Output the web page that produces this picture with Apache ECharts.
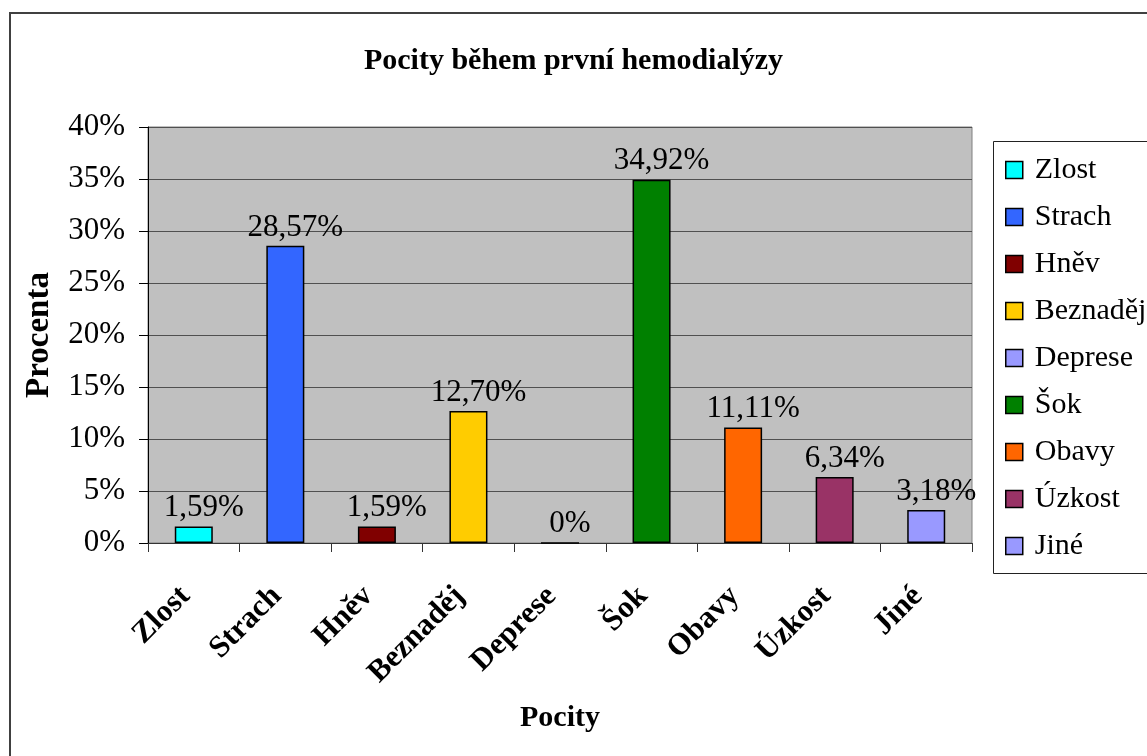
<!DOCTYPE html>
<html>
<head>
<meta charset="utf-8">
<title>Pocity během první hemodialýzy</title>
<script src="https://cdn.jsdelivr.net/npm/echarts@6/dist/echarts.min.js"></script>
<style>
  html, body { margin: 0; padding: 0; background: #fff; }
  #chart { width: 1147px; height: 756px; }
</style>
</head>
<body>
<div id="chart"></div>
<script>
// Feelings reported during the first haemodialysis (percent of respondents)
const categories = ['Zlost', 'Strach', 'Hněv', 'Beznaděj', 'Deprese', 'Šok', 'Obavy', 'Úzkost', 'Jiné'];
const percentages = [1.59, 28.57, 1.59, 12.70, 0, 34.92, 11.11, 6.34, 3.18];
const barColors = ['#00FFFF', '#3366FF', '#800000', '#FFCC00', '#9999FF', '#008000', '#FF6600', '#993366', '#9999FF'];
const yTicks = [0, 5, 10, 15, 20, 25, 30, 35, 40];

const FONT = "'Liberation Serif', 'Times New Roman', serif";

function fmtPct(v) {
  return v === 0 ? '0%' : v.toFixed(2).replace('.', ',') + '%';
}

// One series per category so each one gets its own legend entry;
// barGap -100% puts them on the same slot so every bar sits centred.
const series = categories.map((name, i) => ({
  name: name,
  type: 'bar',
  barWidth: 38,
  barGap: '-100%',
  data: percentages.map((v, j) => (j === i ? v : '-')),
  itemStyle: { color: barColors[i], borderColor: '#000', borderWidth: 1.5 },
  label: {
    show: true,
    position: 'top',
    distance: 3,
    offset: [10, 0],
    color: '#000',
    fontFamily: FONT,
    fontSize: 31,
    formatter: p => fmtPct(p.value)
  }
}));

const chart = echarts.init(document.getElementById('chart'), null, { renderer: 'canvas' });

chart.setOption({
  backgroundColor: '#fff',
  animation: false,
  title: {
    text: 'Pocity během první hemodialýzy',
    left: 'center',
    top: 41,
    textStyle: { fontFamily: FONT, fontSize: 30, fontWeight: 'bold', color: '#000' }
  },
  graphic: [
    { type: 'rect', z: 0, shape: { x: 10, y: 13, width: 1300, height: 900 },
      style: { fill: 'none', stroke: '#404040', lineWidth: 2 } },
    { type: 'rect', z: 0, shape: { x: 993.5, y: 141.5, width: 200, height: 432 },
      style: { fill: '#fff', stroke: '#222', lineWidth: 1 } }
  ],
  legend: {
    orient: 'vertical',
    left: 1005,
    top: 155,
    padding: 0,
    itemWidth: 17,
    itemHeight: 17,
    itemGap: 17,
    icon: 'rect',
    itemStyle: { borderColor: '#000', borderWidth: 1.5 },
    textStyle: { fontFamily: FONT, fontSize: 30, color: '#000', padding: [0, 0, 0, 7] },
    data: categories
  },
  grid: {
    left: 148,
    right: 175,
    top: 127,
    bottom: 213,
    show: true,
    backgroundColor: '#C0C0C0',
    borderColor: '#808080',
    borderWidth: 1
  },
  xAxis: {
    type: 'category',
    data: categories,
    name: 'Pocity',
    nameLocation: 'middle',
    nameGap: 160,
    nameTextStyle: { fontFamily: FONT, fontSize: 30, fontWeight: 'bold', color: '#000' },
    axisLine: { lineStyle: { color: '#333', width: 1 } },
    axisTick: { show: true, length: 9, lineStyle: { color: '#333' } },
    axisLabel: {
      rotate: 45,
      margin: 40,
      interval: 0,
      padding: [0, 12, 0, 0],
      fontFamily: FONT,
      fontSize: 31,
      fontWeight: 'bold',
      color: '#000'
    }
  },
  yAxis: {
    type: 'value',
    min: yTicks[0],
    max: yTicks[yTicks.length - 1],
    interval: 5,
    name: 'Procenta',
    nameLocation: 'middle',
    nameRotate: 90,
    nameGap: 92,
    nameTextStyle: { fontFamily: FONT, fontSize: 33, fontWeight: 'bold', color: '#000' },
    axisLine: { show: true, lineStyle: { color: '#000', width: 1 } },
    axisTick: { show: true, length: 9, lineStyle: { color: '#000' } },
    axisLabel: {
      margin: 23,
      fontFamily: FONT,
      fontSize: 31,
      color: '#000',
      formatter: v => v + '%'
    },
    splitLine: { show: true, lineStyle: { color: '#505050', width: 1 } }
  },
  series: series
});
</script>
</body>
</html>
